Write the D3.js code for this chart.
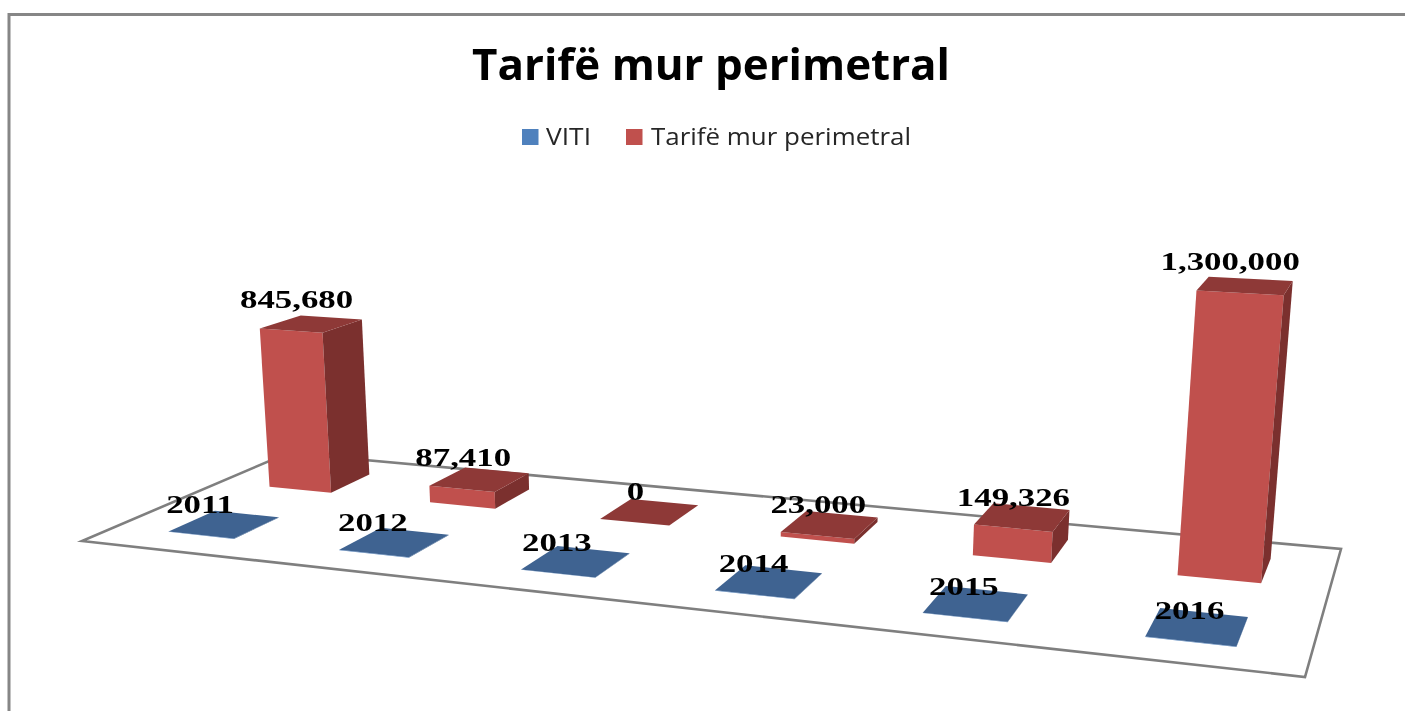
<!DOCTYPE html>
<html>
<head>
<meta charset="utf-8">
<script src="https://cdn.jsdelivr.net/npm/d3@7/dist/d3.min.js"></script>
<style>
html,body{margin:0;padding:0;background:#fff;overflow:hidden}
svg{display:block;filter:blur(0.6px)}
</style>
</head>
<body>
<svg id="chart" width="1405" height="711"></svg>
<script>
const chartTitle = "Tarifë mur perimetral";
const seriesNames = ["VITI", "Tarifë mur perimetral"];
const categories = ["c1", "c2", "c3", "c4", "c5", "c6"];
const vitiValues = [2011, 2012, 2013, 2014, 2015, 2016];
const tarifeValues = [845680, 87410, 0, 23000, 149326, 1300000];
const seriesValues = [vitiValues, tarifeValues];

const W = 1405, H = 711;
const svg = d3.select("#chart");

// frame of the chart area (runs off the right and bottom of the picture)
svg.append("rect").attr("x", 9).attr("y", 14.5).attr("width", W + 20).attr("height", H + 20)
  .attr("fill", "#fff").attr("stroke", "#868686").attr("stroke-width", 3);

// perspective of the floor: unit square to the four floor corners
const floor = [[82, 541], [1305, 677], [1341, 549], [288, 453]];
const [p0, p1, p2, p3] = floor;
const dx1 = p1[0] - p2[0], dx2 = p3[0] - p2[0], sx = p0[0] - p1[0] + p2[0] - p3[0];
const dy1 = p1[1] - p2[1], dy2 = p3[1] - p2[1], sy = p0[1] - p1[1] + p2[1] - p3[1];
const det = dx1 * dy2 - dx2 * dy1;
const g = (sx * dy2 - dx2 * sy) / det, h = (dx1 * sy - sx * dy1) / det;
const a = p1[0] - p0[0] + g * p1[0], b = p3[0] - p0[0] + h * p3[0], c = p0[0];
const d = p1[1] - p0[1] + g * p1[1], e = p3[1] - p0[1] + h * p3[1], f = p0[1];
const vanish = [711, 7596]; // vanishing point of the verticals

const xBand = d3.scaleBand().domain(categories).range([0.0021, 0.9989]).paddingInner(0.61).paddingOuter(0.305);
const depthBand = d3.scaleBand().domain(seriesNames).range([0, 1]).paddingInner(0.56).paddingOuter(0.3);
const yScale = d3.scaleLinear().domain([0, 1300000]).range([0, -0.0367]);

function project(u, v, value) {
  const t = yScale(value);
  const w = g * u + h * v + 1 + t;
  return [(a * u + b * v + c + t * vanish[0]) / w, (d * u + e * v + f + t * vanish[1]) / w];
}
const poly = pts => "M" + pts.map(p => p.map(n => n.toFixed(2)).join(",")).join("L") + "Z";

// floor
svg.append("path").attr("d", poly(floor)).attr("fill", "#fff")
  .attr("stroke", "#7f7f7f").attr("stroke-width", 2.6).attr("stroke-linejoin", "miter");

const palette = {
  [seriesNames[0]]: { front: "#4f81bd", side: "#345a88", top: "#3f6391", legend: "#4f81bd" },
  [seriesNames[1]]: { front: "#c0504d", side: "#7b302e", top: "#8e3937", legend: "#c0504d" }
};

const bars = [];
[1, 0].forEach(si => categories.forEach((cat, i) => {
  const name = seriesNames[si];
  const value = seriesValues[si][i];
  const u0 = xBand(cat), u1 = u0 + xBand.bandwidth();
  const v0 = depthBand(name), v1 = v0 + depthBand.bandwidth();
  bars.push({ name, value, si, u0, u1, v0, v1 });
}));

const barG = svg.append("g").selectAll("g").data(bars).join("g");
barG.append("path").attr("fill", r => palette[r.name].front)
  .attr("d", r => poly([project(r.u0, r.v0, 0), project(r.u1, r.v0, 0), project(r.u1, r.v0, r.value), project(r.u0, r.v0, r.value)]));
barG.append("path").attr("fill", r => palette[r.name].side)
  .attr("d", r => poly([project(r.u1, r.v0, 0), project(r.u1, r.v1, 0), project(r.u1, r.v1, r.value), project(r.u1, r.v0, r.value)]));
barG.append("path").attr("fill", r => palette[r.name].top)
  .attr("d", r => poly([project(r.u0, r.v0, r.value), project(r.u1, r.v0, r.value), project(r.u1, r.v1, r.value), project(r.u0, r.v1, r.value)]));

// data labels: the source picture is stretched sideways, so are its glyphs
const fmt = d3.format(",");
const stretch = 1.34;
svg.append("g").selectAll("text").data(bars).join("text")
  .attr("font-family", "'Liberation Serif', serif")
  .attr("font-weight", "700").attr("font-size", 26).attr("text-anchor", "middle").attr("fill", "#000")
  .attr("transform", r => {
    const um = (r.u0 + r.u1) / 2;
    const mid = project(um, r.v0, r.value / 2);
    const top = project(um, r.v0, r.value);
    const dx = r.si === 1 ? 1 : -1;
    return `translate(${(mid[0] + dx).toFixed(1)},${(top[1] - 22.5).toFixed(1)}) scale(${stretch},1)`;
  })
  .text(r => r.si === 0 ? String(r.value) : fmt(r.value));

// title
svg.append("text").attr("x", 472).attr("y", 80).attr("textLength", 478).attr("lengthAdjust", "spacingAndGlyphs")
  .attr("font-family", "'Open Sans', sans-serif").attr("font-weight", 700).attr("font-size", 43).attr("fill", "#000")
  .text(chartTitle);

// legend
const legendX = d3.scaleOrdinal().domain(seriesNames).range([522, 626]);
const legendTextX = d3.scaleOrdinal().domain(seriesNames).range([546, 651]);
const legendLen = d3.scaleOrdinal().domain(seriesNames).range([45, 260]);
const lg = svg.append("g").selectAll("g").data(seriesNames).join("g");
lg.append("rect").attr("x", n => legendX(n)).attr("y", 129).attr("width", 16.5).attr("height", 16)
  .attr("fill", n => palette[n].legend);
lg.append("text").attr("x", n => legendTextX(n)).attr("y", 145)
  .attr("textLength", n => legendLen(n)).attr("lengthAdjust", "spacingAndGlyphs")
  .attr("font-family", "'Open Sans', sans-serif").attr("font-size", 24).attr("fill", "#262626")
  .text(n => n);
</script>
</body>
</html>
